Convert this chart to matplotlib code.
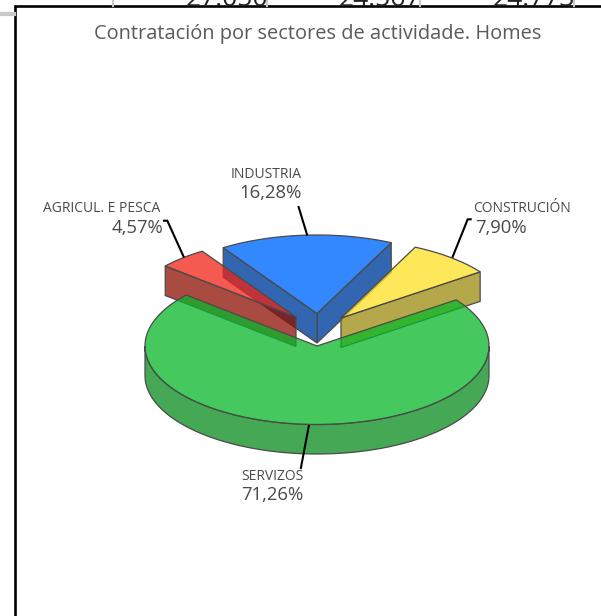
import numpy as np
import matplotlib
matplotlib.use("Agg")
import matplotlib.pyplot as plt
from matplotlib.patches import Polygon

plt.rcParams["font.family"] = ["Open Sans", "DejaVu Sans"]

title = "Contratación por sectores de actividade. Homes"
categories = ["SERVIZOS", "CONSTRUCIÓN", "INDUSTRIA", "AGRICUL. E PESCA"]
shares = [71.26, 7.90, 16.28, 4.57]
share_labels = ["71,26%", "7,90%", "16,28%", "4,57%"]
background_values = ["27.050", "24.567", "24.773"]

top_colors = {"SERVIZOS": (7, 183, 40, .75), "CONSTRUCIÓN": (255, 223, 35, .75),
              "INDUSTRIA": (51, 136, 255, 1), "AGRICUL. E PESCA": (241, 35, 22, .75)}
wall_colors = {"SERVIZOS": (5, 139, 28, .75), "CONSTRUCIÓN": (157, 139, 14, .75),
               "INDUSTRIA": (51, 102, 176, 1), "AGRICUL. E PESCA": (142, 15, 2, .75)}
apex = {"SERVIZOS": (317, 346), "CONSTRUCIÓN": (341, 318),
        "INDUSTRIA": (317, 313.5), "AGRICUL. E PESCA": (296, 317)}
# which straight side of each slice shows a wall: 0 = start angle, 1 = end angle
walls = {"SERVIZOS": [], "CONSTRUCIÓN": [0], "INDUSTRIA": [0, 1], "AGRICUL. E PESCA": [1]}
order = ["INDUSTRIA", "AGRICUL. E PESCA", "CONSTRUCIÓN", "SERVIZOS"]
sweep_order = ["CONSTRUCIÓN", "INDUSTRIA", "AGRICUL. E PESCA", "SERVIZOS"]

RX, RY, DEPTH, START = 172, 78.5, 29.5, 36.0
EDGE = "#4a4a4a"

fig = plt.figure(figsize=(6.01, 6.16), dpi=100)
ax = fig.add_axes([0, 0, 1, 1])
ax.set_xlim(0, 601)
ax.set_ylim(616, 0)
ax.axis("off")


def rgba(c):
    return (c[0] / 255, c[1] / 255, c[2] / 255, c[3])


total = sum(shares)
sweep = dict(zip(categories, [360 * s / total for s in shares]))
spans = {}
cur = START
for c in sweep_order:
    spans[c] = (cur, cur + sweep[c])
    cur += sweep[c]


def pt(c, deg, dz=0):
    x0, y0 = apex[c]
    t = np.radians(deg)
    return np.array([x0 + RX * np.cos(t), y0 - RY * np.sin(t) + dz])


def arc(c, a, b, dz=0):
    return [pt(c, d, dz) for d in np.linspace(a, b, 160)]


# leftovers of the page behind the chart
for x, v in zip((227, 380, 534), background_values):
    ax.text(x, 6, v, fontsize=19, color="#222222", ha="center", va="baseline")
for x in (113, 267, 420, 574):
    ax.plot([x, x], [0, 6], color="#c8c8c8", lw=1.5)
ax.plot([0, 14], [14, 14], color="#c8c8c8", lw=3)
ax.add_patch(plt.Rectangle((14.7, 5.7), 600, 620, fc="white", ec="black", lw=1.9, zorder=1))

z = 2
for c in order:
    a, b = spans[c]
    o = np.array(apex[c], float)
    if c == "SERVIZOS":
        ax.add_patch(Polygon(np.array(arc(c, 180, 360) + arc(c, 180, 360, DEPTH)[::-1]),
                             closed=True, fc=rgba(wall_colors[c]), ec=EDGE, lw=0.9, zorder=z))
    for i in walls[c]:
        d = (a, b)[i]
        face = np.array([o, pt(c, d), pt(c, d, DEPTH), o + [0, DEPTH]])
        ax.add_patch(Polygon(face, closed=True, fc=rgba(wall_colors[c]), ec=EDGE, lw=0.9, zorder=z))
    top = np.array([o] + arc(c, a, b))
    ax.add_patch(Polygon(top, closed=True, fc=rgba(top_colors[c]), ec=EDGE, lw=0.9,
                         zorder=z + 0.1, joinstyle="round"))
    z += 1

# leader lines: rim point, elbow, optional hook end
leaders = [((307.3, 235.5), (298.3, 206)), ((184, 257.5), (167.3, 220.7), (163, 220.7)),
           ((452.3, 257.7), (467.7, 219.3), (471.7, 219.3)), ((309, 425), (300.7, 469))]
for pts in leaders:
    ax.plot([p[0] for p in pts], [p[1] for p in pts], color="black", lw=1.5,
            zorder=8, solid_capstyle="butt", solid_joinstyle="miter")

ax.text(317.5, 33.5, title, fontsize=14.4, color="#5a5a5a", ha="center", va="center", zorder=9)
label_pos = {"INDUSTRIA": ((266, 175), (270.5, 193)), "AGRICUL. E PESCA": ((102, 209), (137.5, 228)),
             "CONSTRUCIÓN": ((522.5, 209), (500.5, 228)), "SERVIZOS": ((272, 476), (272.5, 495))}
for c, s in zip(categories, share_labels):
    (x1, y1), (x2, y2) = label_pos[c]
    ax.text(x1, y1, c, fontsize=10, color="#4a4a4a", ha="center", va="center", zorder=9)
    ax.text(x2, y2, s, fontsize=13.3, color="#4a4a4a", ha="center", va="center", zorder=9)

fig.savefig("out.png", dpi=100)
